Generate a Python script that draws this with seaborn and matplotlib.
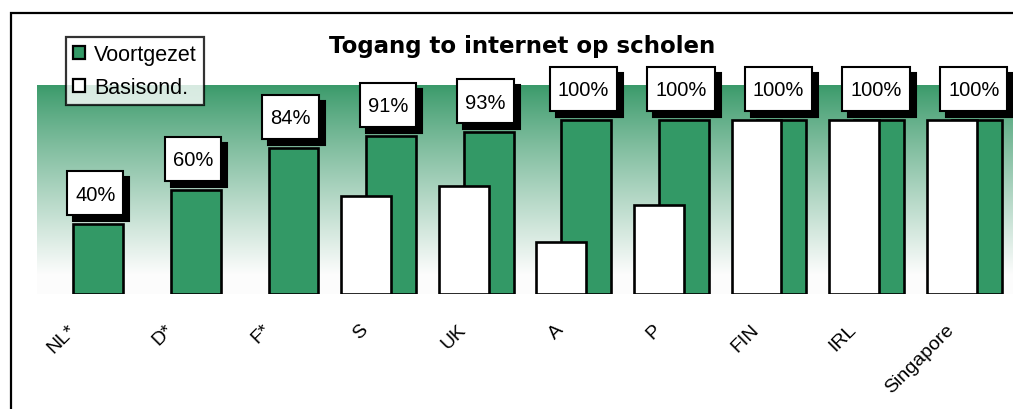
import numpy as np
import pandas as pd
import matplotlib
matplotlib.use("Agg")
import matplotlib.pyplot as plt
import matplotlib.transforms as mtransforms
from matplotlib.patches import Patch, Rectangle
import seaborn as sns

# data
countries = ["NL*", "D*", "F*", "S", "UK", "A", "P", "FIN", "IRL", "Singapore"]
voortgezet = [40, 60, 84, 91, 93, 100, 100, 100, 100, 100]
basisond = [np.nan, np.nan, np.nan, 56, 62, 30, 51, 100, 100, 100]
labels = ["40%", "60%", "84%", "91%", "93%", "100%", "100%", "100%", "100%", "100%"]

GREEN = "#339966"
W, H = 1013, 410

sns.set_theme(style="white")
plt.rcParams["font.family"] = ["Liberation Sans", "DejaVu Sans"]
plt.rcParams["text.color"] = "black"
plt.rcParams["xtick.color"] = "black"
plt.rcParams["xtick.labelcolor"] = "black"

fig = plt.figure(figsize=(W / 100, H / 100), dpi=100)
fig.patch.set_facecolor("white")

# plot area: x from 37px to right edge, y from 86px to 295px
ax = fig.add_axes([37 / W, (H - 295) / H, (W - 37) / W, (295 - 86) / H])

pos = np.arange(len(countries))
df = pd.DataFrame({"pos": pos, "country": countries,
                   "voortgezet": voortgezet, "basisond": basisond})

# gradient background, green on top fading to white
t = np.linspace(0, 1, 256)[:, None]
frac = np.clip(t * 1.1, 0, 1) ** 0.9
top = np.array(matplotlib.colors.to_rgb("#3a9a6a"))
bot = np.array([0.99, 0.99, 0.99])
grad = top[None, None, :] * (1 - frac[..., None]) + bot[None, None, :] * frac[..., None]
ax.imshow(grad, extent=[-0.5, 9.5, 0, 120], aspect="auto", zorder=0,
          interpolation="bilinear")

bw = 0.512   # bar width
off = 0.128  # half overlap offset
sns.barplot(data=df.assign(x=df["pos"] + off), x="x", y="voortgezet",
            native_scale=True, width=bw, color=GREEN, saturation=1,
            edgecolor="black", linewidth=1.9, ax=ax, zorder=2)
sns.barplot(data=df.dropna().assign(x=lambda d: d["pos"] - off), x="x",
            y="basisond", native_scale=True, width=bw, color="white",
            saturation=1, edgecolor="black", linewidth=1.9, ax=ax, zorder=3)

ax.set_xlim(-0.5, 9.5)
ax.set_ylim(0, 120)
ax.set_xlabel("")
ax.set_ylabel("")
ax.set_yticks([])
for s in ax.spines.values():
    s.set_visible(False)
ax.set_xticks(pos)
ax.set_xticklabels(countries, rotation=45, ha="right", va="top", fontsize=14,
                   color="black")
ax.tick_params(axis="x", length=0, pad=19)
shift = mtransforms.ScaledTranslation(-7 / 100, 0, fig.dpi_scale_trans)
for lab in ax.get_xticklabels():
    lab.set_transform(lab.get_transform() + shift)

# value labels
texts = []
for p, v, lab in zip(pos, voortgezet, labels):
    txt = ax.annotate(lab, (p + off, v), xytext=(-3, 30),
                      textcoords="offset pixels", ha="center", va="center",
                      fontsize=14.5, color="black", zorder=7,
                      annotation_clip=False)
    texts.append(txt)

# title
fig.text(522 / W, 1 - 46 / H, "Togang to internet op scholen",
         ha="center", va="center", fontsize=16.5, fontweight="bold",
         family="DejaVu Sans", color="black")

# legend
handles = [Patch(facecolor=GREEN, edgecolor="black", linewidth=1.6),
           Patch(facecolor="white", edgecolor="black", linewidth=1.6)]
leg = fig.legend(handles, ["Voortgezet", "Basisond."], loc="upper left",
                 bbox_to_anchor=(66 / W, 1 - 38 / H), fontsize=15.5,
                 frameon=True, fancybox=False, borderaxespad=0,
                 handlelength=0.56, handleheight=0.56, handletextpad=0.4,
                 labelspacing=0.55, borderpad=0.33, labelcolor="black")
leg.get_frame().set_edgecolor("black")
leg.get_frame().set_linewidth(1.6)
leg.set_zorder(10)

# outer frame of the chart (extends past the picture)
fig.patches.append(Rectangle((11 / W, -0.2), 2.0, 1.2 + (1 - 14 / H) - 1,
                             transform=fig.transFigure, fill=False,
                             ec="black", lw=1.6))

# boxes with drop shadow behind the value labels (pixel sized)
fig.canvas.draw()
rend = fig.canvas.get_renderer()
ident = mtransforms.IdentityTransform()
for txt in texts:
    bb = txt.get_window_extent(rend)
    cx, cy = (bb.x0 + bb.x1) / 2, (bb.y0 + bb.y1) / 2
    bw_px, bh_px = bb.width + 16, 44
    x0, y0 = cx - bw_px / 2, cy - bh_px / 2 + 1
    ax.add_patch(Rectangle((x0 + 6, y0 - 6), bw_px, bh_px, transform=ident,
                           fc="black", ec="black", lw=1.5, zorder=5,
                           clip_on=False))
    ax.add_patch(Rectangle((x0, y0), bw_px, bh_px, transform=ident,
                           fc="white", ec="black", lw=1.5, zorder=6,
                           clip_on=False))

fig.savefig("out.png", dpi=100)
